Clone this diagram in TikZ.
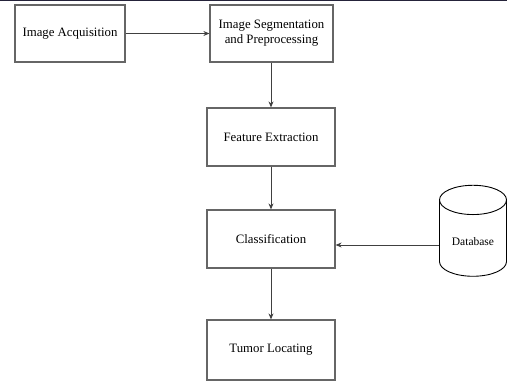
\documentclass[tikz,border=0pt]{standalone}
\usepackage{fontspec}
\setmainfont{Liberation Serif}
\usetikzlibrary{shapes.geometric, arrows.meta, positioning}
\definecolor{topbar}{HTML}{25233A}
\tikzset{
    stage/.style={
        rectangle, draw=black!60, line width=1.2pt,
        minimum width=128pt, minimum height=58pt,
        fill=white, font=\fontsize{12.8}{15}\selectfont, align=center
    },
    store/.style={
        cylinder, shape border rotate=90, aspect=0.6,
        draw=black, line width=0.9pt,
        minimum width=67pt, minimum height=91pt,
        fill=white, font=\fontsize{11.5}{13}\selectfont
    },
    wire/.style={draw=black!75, line width=0.8pt, -{Stealth[length=6pt,width=5pt]}}
}

\begin{document}
\begin{tikzpicture}[x=1pt, y=-1pt]
\useasboundingbox (0,0) rectangle (507,381);
\fill[topbar] (0,0) rectangle (507,1.4);

% Acquisition and segmentation
\node[stage, minimum width=110pt, minimum height=57pt] (acq) at (70,33.5) {Image Acquisition};
\node[stage, minimum width=123pt, minimum height=57pt] (seg) at (271.5,33.5) {Image Segmentation\\and Preprocessing};

\draw[wire] (acq) -- (seg);

% Feature extraction and classification
\node[stage] (feat) at (271,137) {Feature Extraction};
\node[stage] (cls) at (271,239) {Classification};

\draw[wire] (seg.south -| feat) -- (feat);
\draw[wire] (feat) -- (cls);

% Database
\node[store] (db) at (473,241.5) {Database};
\draw[wire] (db.west |- 0,245) coordinate (dbin) -- (dbin -| cls.east);

% Output
\node[stage, minimum height=60pt] (tum) at (271,350) {Tumor Locating};
\draw[wire] (cls) -- (tum);

\end{tikzpicture}
\end{document}
